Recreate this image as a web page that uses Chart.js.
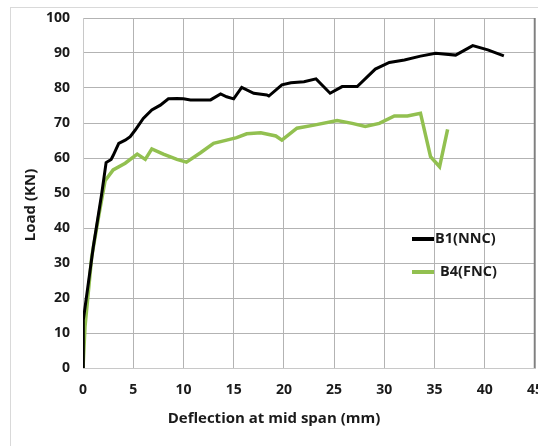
<!DOCTYPE html>
<html>
<head>
<meta charset="utf-8">
<script src="https://cdn.jsdelivr.net/npm/chart.js@4"></script>
<style>
  html, body { margin: 0; padding: 0; background: #fff; }
  #wrap { position: relative; width: 538px; height: 446px; overflow: hidden; }
  #frame { position: absolute; left: 10px; top: 7px; width: 600px; height: 500px; border: 1px solid #d9d9d9; }
  canvas { position: absolute; left: 0; top: 0; }
</style>
</head>
<body>
<div id="wrap">
  <div id="frame"></div>
  <canvas id="loadChart" width="538" height="446"></canvas>
</div>
<script>
// deflection (mm) / load (kN)
const b1Deflection = [0, 0.03, 1.03, 1.87, 2.3, 2.8, 3.0, 3.56, 4.2, 4.7, 5.2, 6.0, 6.85, 7.7, 8.5, 9.35, 10.0, 10.7, 12.7, 13.7, 14.3, 15.0, 15.8, 17.0, 18.3, 18.5, 19.8, 20.7, 22.0, 23.2, 24.6, 25.8, 27.3, 29.1, 30.5, 32.0, 33.6, 35.1, 37.1, 38.8, 40.3, 41.9];
const b1Load = [0, 13.7, 34.7, 49.9, 58.7, 59.6, 60.7, 64.2, 65.1, 66.1, 68, 71.3, 73.7, 75.1, 76.9, 77.0, 76.9, 76.6, 76.6, 78.3, 77.5, 76.9, 80.2, 78.5, 78.0, 77.7, 80.9, 81.5, 81.8, 82.6, 78.5, 80.4, 80.4, 85.4, 87.3, 88.0, 89.1, 89.9, 89.4, 92.1, 90.9, 89.2];

const b4Deflection = [0, 0.2, 0.87, 1.6, 2.2, 3.0, 4.2, 5.4, 6.2, 6.85, 8.0, 9.35, 10.3, 11.7, 13.0, 14.3, 15.3, 16.3, 17.7, 19.2, 19.8, 21.3, 23.0, 25.3, 26.8, 28.1, 29.5, 31.0, 32.3, 33.6, 34.6, 35.5, 36.3];
const b4Load = [0, 11.8, 31.8, 44.0, 53.5, 56.6, 58.5, 61.1, 59.6, 62.6, 61.1, 59.6, 58.8, 61.5, 64.2, 65.1, 65.8, 66.9, 67.2, 66.3, 65.1, 68.5, 69.4, 70.7, 69.9, 69.0, 69.9, 72.0, 72.0, 72.8, 60.4, 57.5, 68.2];

const seriesNames = ["B1(NNC)", "B4(FNC)"];
const seriesColors = ["#000000", "#92c050"];
const xTitle = "Deflection at mid span (mm)";
const yTitle = "Load (KN)";

const FONT = "'Open Sans', 'Liberation Sans', sans-serif";

function toPoints(xs, ys) {
  return xs.map((x, i) => ({ x: x, y: ys[i] }));
}

// titles, legend and right border drawn by hand to sit where the original has them
const extras = {
  id: "extras",
  afterDraw(chart) {
    const ctx = chart.ctx;
    const area = chart.chartArea;
    ctx.save();
    ctx.strokeStyle = "#7f7f7f";
    ctx.lineWidth = 1.5;
    ctx.beginPath();
    ctx.moveTo(area.right - 0.5, area.top);
    ctx.lineTo(area.right - 0.5, area.bottom);
    ctx.stroke();

    ctx.fillStyle = "#1a1a1a";
    ctx.font = "bold 15px " + FONT;
    ctx.textAlign = "center";
    ctx.textBaseline = "middle";
    ctx.fillText(xTitle, 274, 419);

    ctx.translate(31, 205);
    ctx.rotate(-Math.PI / 2);
    ctx.fillText(yTitle, 0, 0);
    ctx.restore();

    ctx.save();
    const legendY = [239, 272];
    ctx.font = "bold 14.5px " + FONT;
    ctx.textBaseline = "middle";
    ctx.textAlign = "left";
    seriesNames.forEach((name, i) => {
      ctx.strokeStyle = seriesColors[i];
      ctx.lineWidth = 4;
      ctx.beginPath();
      ctx.moveTo(412, legendY[i]);
      ctx.lineTo(434, legendY[i]);
      ctx.stroke();
      ctx.fillStyle = "#1a1a1a";
      ctx.fillText(name, i === 0 ? 435 : 440, legendY[i]);
    });
    ctx.restore();
  }
};

const ctx = document.getElementById("loadChart").getContext("2d");
new Chart(ctx, {
  type: "line",
  data: {
    datasets: [
      {
        label: seriesNames[0],
        data: toPoints(b1Deflection, b1Load),
        borderColor: seriesColors[0],
        borderWidth: 3,
        pointRadius: 0,
        tension: 0,
      },
      {
        label: seriesNames[1],
        data: toPoints(b4Deflection, b4Load),
        borderColor: seriesColors[1],
        borderWidth: 3.5,
        pointRadius: 0,
        tension: 0,
      },
    ],
  },
  options: {
    responsive: false,
    animation: false,
    layout: { padding: { top: 18, right: 3, left: 0, bottom: 0 } },
    plugins: {
      legend: { display: false },
      tooltip: { enabled: false },
    },
    scales: {
      x: {
        type: "linear",
        min: 0,
        max: 45,
        afterFit(scale) {
          scale.height = 78;
          scale.paddingLeft = 0;
          scale.paddingRight = 0;
        },
        grid: { color: "#b3b3b3", drawTicks: false },
        border: { color: "#c8c8c8" },
        ticks: {
          stepSize: 5,
          padding: 14,
          color: "#1a1a1a",
          font: { family: FONT, size: 14, weight: "bold" },
        },
      },
      y: {
        min: 0,
        max: 100,
        afterFit(scale) {
          scale.width = 83;
          scale.paddingTop = 0;
          scale.paddingBottom = 0;
        },
        grid: { color: "#b3b3b3", drawTicks: false },
        border: { color: "#c8c8c8" },
        ticks: {
          stepSize: 10,
          padding: 13,
          color: "#1a1a1a",
          font: { family: FONT, size: 14, weight: "bold" },
        },
      },
    },
  },
  plugins: [extras],
});
</script>
</body>
</html>
